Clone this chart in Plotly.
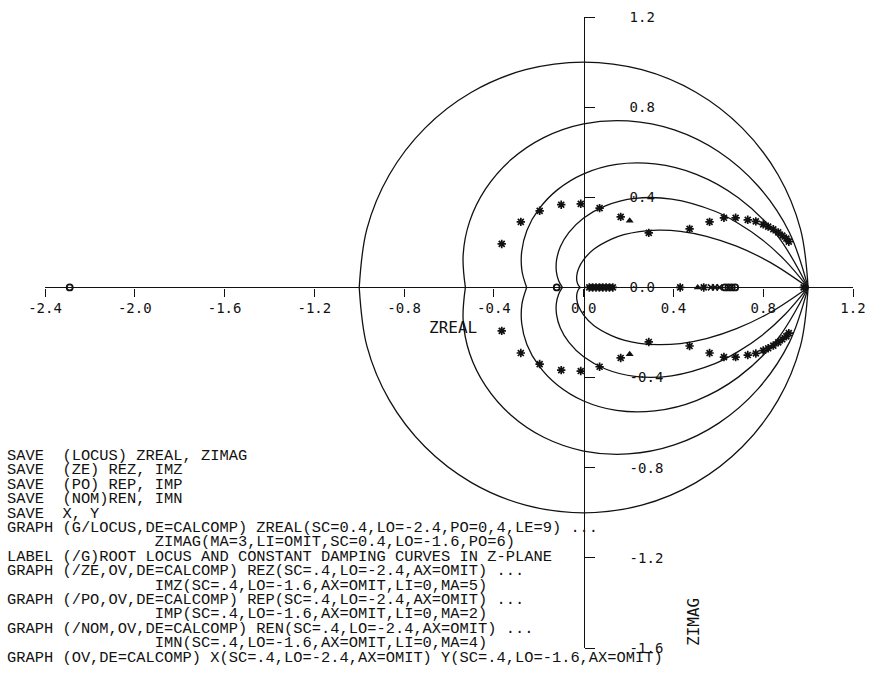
import plotly.graph_objects as go

# ---------------- data ----------------
# axis ticks
x_ticks = [-2.4, -2.0, -1.6, -1.2, -0.8, -0.4, 0.0, 0.4, 0.8, 1.2]
x_tick_text = ["-2.4", "-2.0", "-1.6", "-1.2", "-0.8", "-0.4", "0.0", "0.4", "0.8", "1.2"]
y_ticks = [-1.6, -1.2, -0.8, -0.4, 0.0, 0.4, 0.8, 1.2]
y_tick_text = ["-1.6", "-1.2", "-0.8", "-0.4", "0.0", "0.4", "0.8", "1.2"]

# constant damping curves, upper half (lower half is the mirror image)
circle_re = [1.0, 0.966, 0.866, 0.707, 0.5, 0.259, 0.0, -0.259, -0.5, -0.707, -0.866, -0.966, -1.0]
circle_im = [0.0, 0.259, 0.5, 0.707, 0.866, 0.966, 1.0, 0.966, 0.866, 0.707, 0.5, 0.259, 0.0]

damp2_re = [1.0, 0.916, 0.778, 0.602, 0.404, 0.198, 0.0, -0.178, -0.326, -0.437, -0.508, -0.537, -0.527]
damp2_im = [0.0, 0.245, 0.449, 0.602, 0.699, 0.739, 0.726, 0.665, 0.565, 0.437, 0.293, 0.144, 0.0]

damp4_re = [1.0, 0.862, 0.689, 0.502, 0.317, 0.146, 0.0, -0.116, -0.200, -0.253, -0.276, -0.275, -0.254]
damp4_im = [0.0, 0.231, 0.398, 0.502, 0.548, 0.546, 0.504, 0.434, 0.347, 0.253, 0.160, 0.074, 0.0]

damp6_re = [1.0, 0.899, 0.794, 0.688, 0.585, 0.392, 0.228, 0.097, 0.0, -0.0655, -0.104, -0.1208, -0.1216, -0.1114, -0.0948]
damp6_im = [0.0, 0.118, 0.213, 0.285, 0.338, 0.392, 0.395, 0.362, 0.308, 0.244, 0.180, 0.1208, 0.0702, 0.0299, 0.0]

damp8_re = [1.0, 0.833, 0.681, 0.547, 0.431, 0.332, 0.248, 0.179, 0.124, 0.045, 0.0, -0.0225, -0.0306, -0.0305, -0.0264, -0.0208, -0.0152]
damp8_im = [0.0, 0.110, 0.183, 0.227, 0.249, 0.254, 0.248, 0.234, 0.214, 0.169, 0.123, 0.084, 0.053, 0.0305, 0.0153, 0.0056, 0.0]

# root locus points (complex branch, upper half; mirrored below)
locus_re = [-0.365, -0.28, -0.196, -0.10, -0.013, 0.071, 0.165, 0.29, 0.472, 0.561, 0.625,
            0.677, 0.731, 0.767, 0.80, 0.822, 0.845, 0.867, 0.885, 0.903, 0.914]
locus_im = [0.193, 0.291, 0.34, 0.367, 0.371, 0.352, 0.313, 0.242, 0.26, 0.291, 0.309,
            0.309, 0.30, 0.293, 0.28, 0.27, 0.258, 0.244, 0.23, 0.217, 0.203]
# root locus points on the real axis
locus_real_re = [0.025, 0.04, 0.055, 0.07, 0.085, 0.10, 0.115, 0.13, 0.43, 0.535, 0.98]
locus_real_im = [0.0, 0.0, 0.0, 0.0, 0.0, 0.0, 0.0, 0.0, 0.0, 0.0, 0.0]

# zeros (REZ, IMZ)
zero_re = [-2.29, -0.12, 0.63, 0.645, 0.66, 0.675]
zero_im = [0.0, 0.0, 0.0, 0.0, 0.0, 0.0]
# poles (REP, IMP)
pole_re = [0.205, 0.205, 0.508]
pole_im = [0.296, -0.296, 0.0]
# REN, IMN
nom_re = [0.567, 0.585, 0.605]
nom_im = [0.0, 0.0, 0.0]

script_lines = [
    "SAVE  (LOCUS) ZREAL, ZIMAG",
    "SAVE  (ZE) REZ, IMZ",
    "SAVE  (PO) REP, IMP",
    "SAVE  (NOM)REN, IMN",
    "SAVE  X, Y",
    "GRAPH (G/LOCUS,DE=CALCOMP) ZREAL(SC=0.4,LO=-2.4,PO=0,4,LE=9) ...",
    "                ZIMAG(MA=3,LI=OMIT,SC=0.4,LO=-1.6,PO=6)",
    "LABEL (/G)ROOT LOCUS AND CONSTANT DAMPING CURVES IN Z-PLANE",
    "GRAPH (/ZE,OV,DE=CALCOMP) REZ(SC=.4,LO=-2.4,AX=OMIT) ...",
    "                IMZ(SC=.4,LO=-1.6,AX=OMIT,LI=0,MA=5)",
    "GRAPH (/PO,OV,DE=CALCOMP) REP(SC=.4,LO=-2.4,AX=OMIT) ...",
    "                IMP(SC=.4,LO=-1.6,AX=OMIT,LI=0,MA=2)",
    "GRAPH (/NOM,OV,DE=CALCOMP) REN(SC=.4,LO=-2.4,AX=OMIT) ...",
    "                IMN(SC=.4,LO=-1.6,AX=OMIT,LI=0,MA=4)",
    "GRAPH (OV,DE=CALCOMP) X(SC=.4,LO=-2.4,AX=OMIT) Y(SC=.4,LO=-1.6,AX=OMIT)",
]
x_title = "ZREAL"
y_title = "ZIMAG"

# ---------------- layout geometry ----------------
W, H = 874, 678
PL, PR, PT, PB = 45, 853, 17, 648  # plot box in pixels
X_RANGE = [-2.4, 1.2]
Y_RANGE = [-1.6, 1.2]
INK = "#111111"


def px_x(p):
    return (p - PL) / (PR - PL)


def px_y(p):
    return (PB - p) / (PB - PT)


fig = go.Figure()

curve_line = dict(color=INK, width=1.3, shape="spline", smoothing=1.0)
for re, im in [(circle_re, circle_im), (damp2_re, damp2_im), (damp4_re, damp4_im),
               (damp6_re, damp6_im), (damp8_re, damp8_im)]:
    fig.add_trace(go.Scatter(x=re, y=im, mode="lines", line=curve_line,
                             hoverinfo="skip", showlegend=False))
    fig.add_trace(go.Scatter(x=re, y=[-v for v in im], mode="lines", line=curve_line,
                             hoverinfo="skip", showlegend=False))

# locus stars
fig.add_trace(go.Scatter(
    x=locus_re + locus_re + locus_real_re,
    y=locus_im + [-v for v in locus_im] + locus_real_im,
    mode="markers", showlegend=False,
    marker=dict(symbol="asterisk-open", size=7, color=INK, line=dict(color=INK, width=1.7))))
# zeros
fig.add_trace(go.Scatter(
    x=zero_re, y=zero_im, mode="markers", showlegend=False,
    marker=dict(symbol="circle-open", size=6, color=INK, line=dict(color=INK, width=1.8))))
# poles
fig.add_trace(go.Scatter(
    x=pole_re, y=pole_im, mode="markers", showlegend=False,
    marker=dict(symbol="triangle-up", size=7, color=INK, line=dict(width=0))))
# REN / IMN
fig.add_trace(go.Scatter(
    x=nom_re, y=nom_im, mode="markers", showlegend=False,
    marker=dict(symbol="x-thin-open", size=6, color=INK, line=dict(color=INK, width=1.6))))

tick_font = dict(family="DejaVu Sans Mono", size=14, color=INK)

fig.update_layout(
    template="none",
    width=W, height=H, autosize=False,
    margin=dict(l=PL, r=W - PR, t=PT, b=H - PB, pad=0),
    paper_bgcolor="white", plot_bgcolor="white",
    showlegend=False,
    xaxis=dict(
        range=X_RANGE, domain=[0, 1], anchor="free",
        position=(0 - Y_RANGE[0]) / (Y_RANGE[1] - Y_RANGE[0]),
        side="bottom", showline=True, linecolor=INK, linewidth=1.3,
        ticks="outside", ticklen=8, tickwidth=1.3, tickcolor=INK,
        tickmode="array", tickvals=x_ticks, ticktext=x_tick_text,
        tickfont=tick_font, ticklabelstandoff=0,
        showgrid=False, zeroline=False, automargin=False, fixedrange=True,
    ),
    yaxis=dict(
        range=Y_RANGE, domain=[0, 1], anchor="free",
        position=(0 - X_RANGE[0]) / (X_RANGE[1] - X_RANGE[0]),
        side="right", showline=True, linecolor=INK, linewidth=1.3,
        ticks="outside", ticklen=10, tickwidth=1.3, tickcolor=INK,
        tickmode="array", tickvals=y_ticks, ticktext=y_tick_text,
        tickfont=tick_font, ticklabelstandoff=32,
        showgrid=False, zeroline=False, automargin=False, fixedrange=True,
    ),
)

annotations = []
# axis titles
annotations.append(dict(text=x_title, xref="paper", yref="paper",
                        x=px_x(453), y=px_y(327), xanchor="center", yanchor="middle",
                        showarrow=False,
                        font=dict(family="DejaVu Sans Mono", size=16, color=INK)))
annotations.append(dict(text=y_title, xref="paper", yref="paper",
                        x=px_x(693), y=px_y(622), xanchor="center", yanchor="middle",
                        textangle=-90, showarrow=False,
                        font=dict(family="DejaVu Sans Mono", size=16, color=INK)))
# command listing
for i, line in enumerate(script_lines):
    annotations.append(dict(
        text=line.replace(" ", "\u00a0"), xref="paper", yref="paper",
        x=px_x(5), y=px_y(456 + 14.4 * i), xanchor="left", yanchor="middle",
        showarrow=False, align="left",
        font=dict(family="Liberation Mono", size=15.4, color=INK)))
fig.update_layout(annotations=annotations)

fig.write_html("out.html")
